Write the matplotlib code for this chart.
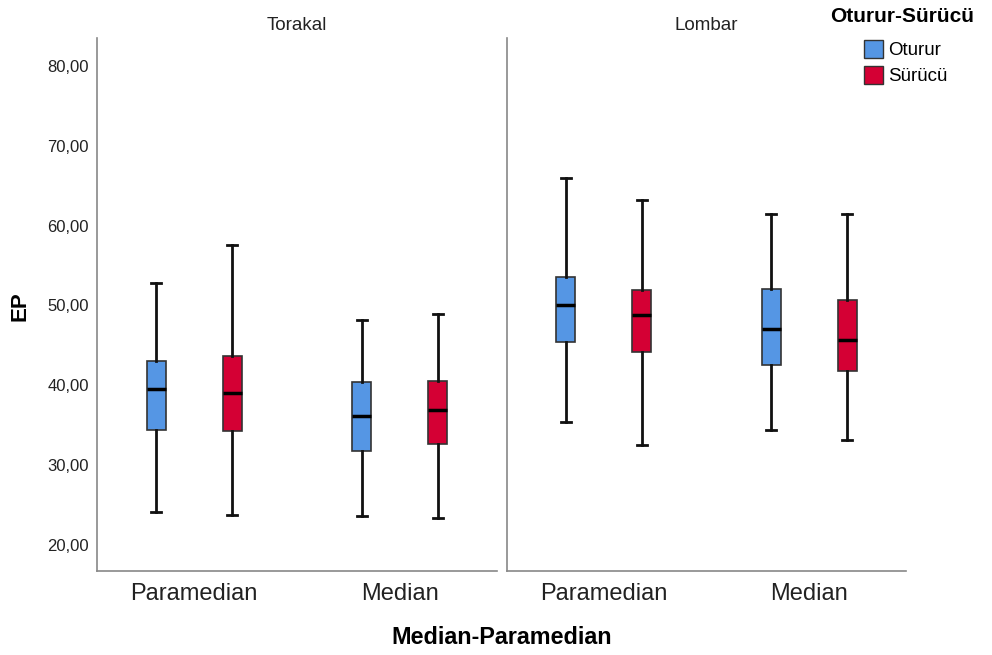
import matplotlib
matplotlib.use("Agg")
import matplotlib.pyplot as plt
from matplotlib.patches import Patch

plt.rcParams['font.family'] = ['Liberation Sans', 'DejaVu Sans']

panels = ["Torakal", "Lombar"]
categories = ["Paramedian", "Median"]
groups = ["Oturur", "Sürücü"]
colors = {"Oturur": "#5596E4", "Sürücü": "#D40034"}

# stats: (whislo, q1, med, q3, whishi) per panel -> category -> group
stats = {
    "Torakal": {
        "Paramedian": {"Oturur": (24.1, 34.4, 39.5, 43.0, 52.8),
                       "Sürücü": (23.7, 34.2, 39.0, 43.6, 57.5)},
        "Median": {"Oturur": (23.6, 31.7, 36.1, 40.4, 48.2),
                   "Sürücü": (23.4, 32.6, 36.9, 40.5, 48.9)},
    },
    "Lombar": {
        "Paramedian": {"Oturur": (35.4, 45.4, 50.0, 53.6, 65.9),
                       "Sürücü": (32.5, 44.2, 48.8, 51.9, 63.2)},
        "Median": {"Oturur": (34.4, 42.5, 47.0, 52.1, 61.4),
                   "Sürücü": (33.1, 41.8, 45.6, 50.7, 61.4)},
    },
}

W, H = 992, 655
fig = plt.figure(figsize=(W / 100, H / 100), dpi=100)

ax_bottom = 1 - 571 / H
ax_top = 1 - 38 / H
ax_h = ax_top - ax_bottom
axes = [fig.add_axes([97 / W, ax_bottom, (497 - 97) / W, ax_h]),
        fig.add_axes([507 / W, ax_bottom, (906 - 507) / W, ax_h])]

offsets = {"Oturur": -0.185, "Sürücü": 0.185}
spine_col = "#888888"

for ax, panel in zip(axes, panels):
    for ci, cat in enumerate(categories):
        for g in groups:
            lo, q1, med, q3, hi = stats[panel][cat][g]
            bx = [{"whislo": lo, "q1": q1, "med": med, "q3": q3, "whishi": hi, "fliers": []}]
            ax.bxp(bx, positions=[ci + offsets[g]], widths=0.092, patch_artist=True,
                   showfliers=False,
                   boxprops=dict(facecolor=colors[g], edgecolor="#333333", linewidth=1.2),
                   medianprops=dict(color="black", linewidth=2.5),
                   whiskerprops=dict(color="#111111", linewidth=2.0),
                   capprops=dict(color="#111111", linewidth=2.0),
                   capwidths=0.05)
    ax.set_xlim(-0.472, 1.472)
    ax.set_ylim(16.7, 83.5)
    ax.set_xticks([0, 1])
    ax.set_xticklabels(categories, fontsize=17, color="#222222")
    ax.tick_params(axis="x", length=0, pad=9)
    for s in ["top", "right"]:
        ax.spines[s].set_visible(False)
    for s in ["left", "bottom"]:
        ax.spines[s].set_color(spine_col)
        ax.spines[s].set_linewidth(1.2)
    ax.set_title(panel, fontsize=13.5, color="#222222", pad=6)
    ax.set_facecolor("none")

yt = [20, 30, 40, 50, 60, 70, 80]
axes[0].set_yticks(yt)
axes[0].set_yticklabels([f"{v:.2f}".replace(".", ",") for v in yt], fontsize=12, color="#222222")
axes[0].tick_params(axis="y", length=0, pad=6)
axes[1].set_yticks([])

fig.text(20 / W, 1 - 306 / H, "EP", ha="center", va="center", rotation=90,
         fontsize=16, fontweight="bold")
fig.text(502 / W, 1 - 637 / H, "Median-Paramedian", ha="center", va="center",
         fontsize=16.8, fontweight="bold")

fig.text(902 / W, 1 - 16 / H, "Oturur-Sürücü", ha="center", va="center",
         fontsize=15, fontweight="bold")
handles = [Patch(facecolor=colors[g], edgecolor="#333333", label=g) for g in groups]
fig.legend(handles=handles, loc="upper left", bbox_to_anchor=(864 / W, 1 - 40 / H),
           frameon=False, fontsize=13.5, handlelength=1.0, handleheight=1.1,
           handletextpad=0.3, labelspacing=0.35, borderaxespad=0, borderpad=0)

fig.savefig("out.png", dpi=100)
